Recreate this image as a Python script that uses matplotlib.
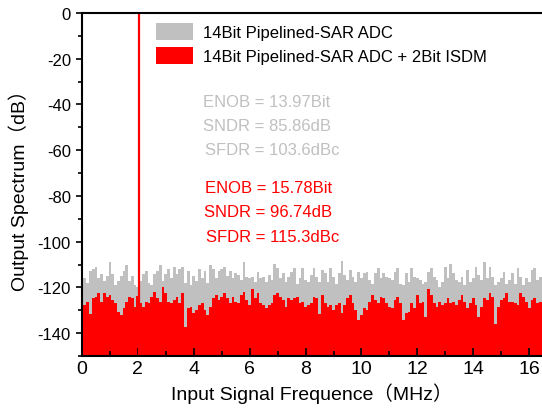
import numpy as np
import matplotlib
matplotlib.use('Agg')
import matplotlib.pyplot as plt
from matplotlib.patches import Patch

plt.rcParams['font.family'] = ['Liberation Sans', 'Noto Sans CJK SC']
plt.rcParams['axes.unicode_minus'] = False

# FFT bins, 0.1 MHz apart, starting at 0 MHz
BIN_MHZ = 0.1

# 14Bit Pipelined-SAR ADC noise floor (dB)
GREY_DB = [
    -115, -116, -118, -113, -112, -111, -116, -114, -117, -115,
    -109, -114, -119, -117, -115, -113, -110, -117, -115, -119,
    -120, -117, -114, -113, -118, -119, -114, -113, -110, -117,
    -114, -112, -116, -111, -114, -112, -111, -118, -113, -119,
    -115, -117, -112, -116, -113, -118, -110, -112, -116, -113,
    -112, -111, -115, -113, -116,
    -113.9, -114.6, -116.8, -108.8, -115.4, -116.1, -115.4, -117.5, -113.2, -116.1,
    -115.4, -117.5, -114.6, -116.8, -109.6, -111.7, -116.1, -113.9, -117.5, -115.4,
    -113.2, -111.7, -118.3, -116.1, -111.7, -116.8, -117.5, -114.6, -111.7, -115.4,
    -117.5, -112.5, -113.9, -117.5, -111.7, -115.4, -118.3, -113.9, -108.4, -114.6,
    -116.8, -112.5, -115.4, -117.5, -113.2, -116.1, -113.9, -113.2, -116.8, -118.3,
    -113.9, -111.7, -116.1, -113.9, -115.4,
    -116.1, -116.8, -113.2, -111.7, -118.3, -119.0, -113.9, -117.5, -111.7, -115.4,
    -116.1, -116.8, -118.3, -117.5, -113.2, -111.7, -115.4, -116.8, -119.7, -117.5,
    -111.0, -116.1, -109.6, -113.9, -116.8, -117.5, -115.4, -119.0, -112.5, -117.5,
    -116.1, -111.0, -114.6, -116.8, -108.8, -116.1, -111.0, -115.4, -119.0, -117.5,
    -116.1, -113.2, -118.3, -116.8, -113.9, -118.3, -111.7, -115.4, -119.0, -116.1,
    -117.5, -112.5, -111.7, -116.8, -115.4, -114.6,
]

# 14Bit Pipelined-SAR ADC + 2Bit ISDM noise floor (dB)
RED_DB = [
    -124.1, -127.7, -126.2, -131.5, -124.8, -124.1, -122.6, -126.2, -122.3, -124.1,
    -123.3, -125.5, -127.0, -130.6, -132.0, -129.1, -126.2, -124.1, -124.8, -128.4,
    -123.8, -127.0, -128.4, -126.2, -127.0, -124.1, -121.9, -124.8, -126.2, -119.7,
    -122.6, -126.2, -127.0, -125.5, -124.1, -127.0, -122.6, -137.5, -129.1, -128.4,
    -131.3, -129.9, -127.7, -127.0, -129.9, -132.0, -128.4, -124.8, -123.3, -125.5,
    -124.1, -122.6, -124.8, -127.0, -124.1,
    -126.2, -127.0, -123.3, -121.9, -125.5, -127.7, -120.5, -124.8, -122.6, -127.0,
    -127.7, -129.1, -127.7, -127.0, -123.3, -122.6, -124.1, -125.5, -128.4, -124.8,
    -125.5, -124.8, -124.1, -127.0, -126.2, -128.4, -127.7, -127.0, -124.1, -124.8,
    -131.8, -123.3, -127.0, -128.4, -127.7, -129.9, -127.7, -127.0, -131.3, -127.7,
    -124.8, -123.3, -127.0, -129.9, -134.2, -132.0, -129.1, -129.9, -126.2, -123.3,
    -125.5, -127.0, -124.1, -124.8, -127.0,
    -128.4, -129.1, -125.5, -124.1, -127.0, -134.2, -131.3, -130.6, -127.0, -129.1,
    -123.3, -127.0, -126.2, -132.8, -120.5, -123.3, -127.0, -128.4, -126.2, -127.7,
    -127.0, -124.8, -127.0, -126.2, -127.7, -125.5, -123.3, -126.2, -129.1, -127.0,
    -124.8, -127.7, -132.8, -128.4, -124.8, -125.5, -122.6, -124.1, -136.0, -128.4,
    -125.5, -124.8, -122.6, -126.2, -126.2, -127.0, -127.7, -122.6, -124.1, -126.2,
    -129.1, -125.5, -124.8, -127.0, -126.2, -125.5,
]

SIGNAL_MHZ = 2.03
SIGNAL_DB = 0.0

LABELS = ['14Bit Pipelined-SAR ADC', '14Bit Pipelined-SAR ADC + 2Bit ISDM']
GREY_STATS = ['ENOB = 13.97Bit', 'SNDR = 85.86dB', 'SFDR = 103.6dBc']
RED_STATS = ['ENOB = 15.78Bit', 'SNDR = 96.74dB', 'SFDR = 115.3dBc']

GREY = '#C0C0C0'
RED = '#FF0000'
W, H = 542, 414
YMIN = -150

freq = np.arange(len(GREY_DB)) * BIN_MHZ

fig = plt.figure(figsize=(W / 100, H / 100), dpi=100)
ax = fig.add_axes([82 / W, 1 - 357 / H, 460 / W, 343 / H])

ax.fill_between(freq, YMIN, GREY_DB, step='mid', color=GREY, linewidth=0)
ax.fill_between(freq, YMIN, RED_DB, step='mid', color=RED, linewidth=0)
ax.vlines(SIGNAL_MHZ, YMIN, SIGNAL_DB, color=RED, linewidth=1.6)

ax.set_xlim(0, 16.46)
ax.set_ylim(YMIN, 0)
ax.set_xticks(np.arange(0, 17, 2))
ax.set_xticks(np.arange(1, 17, 2), minor=True)
ax.set_yticks(np.arange(-140, 1, 20))
ax.set_yticks(np.arange(-150, 1, 10), minor=True)

ax.tick_params(axis='x', which='both', direction='in', labelsize=14, pad=3, width=1.2)
ax.tick_params(axis='x', which='major', length=5.5)
ax.tick_params(axis='x', which='minor', length=3.5)
ax.tick_params(axis='y', which='both', direction='out', labelsize=12, pad=4, width=1.2)
ax.tick_params(axis='y', which='major', length=4)
ax.tick_params(axis='y', which='minor', length=3)

for side in ['left', 'bottom', 'top']:
    ax.spines[side].set_linewidth(1.5)
ax.spines['right'].set_visible(False)

ax.set_xlabel('Input Signal Frequence（MHz）', fontsize=14, labelpad=4)
ax.set_ylabel('Output Spectrum（dB）', fontsize=14, labelpad=6)

handles = [Patch(facecolor=GREY, edgecolor='none'), Patch(facecolor=RED, edgecolor='none')]
fig.legend(handles, LABELS, loc='upper left', bbox_to_anchor=(156 / W, 1 - 24 / H),
           frameon=False, fontsize=12, borderpad=0, borderaxespad=0,
           handlelength=2.2, handleheight=1.2, handletextpad=0.6, labelspacing=0.4)

# stats text, baselines
for txt, x, yb in zip(GREY_STATS, [203, 203, 205], [107, 131, 155]):
    fig.text(x / W, 1 - yb / H, txt, color=GREY, fontsize=12, va='baseline')
for txt, x, yb in zip(RED_STATS, [205, 204, 206], [193, 217, 242]):
    fig.text(x / W, 1 - yb / H, txt, color=RED, fontsize=12, va='baseline')

fig.savefig('out.png', dpi=100)
